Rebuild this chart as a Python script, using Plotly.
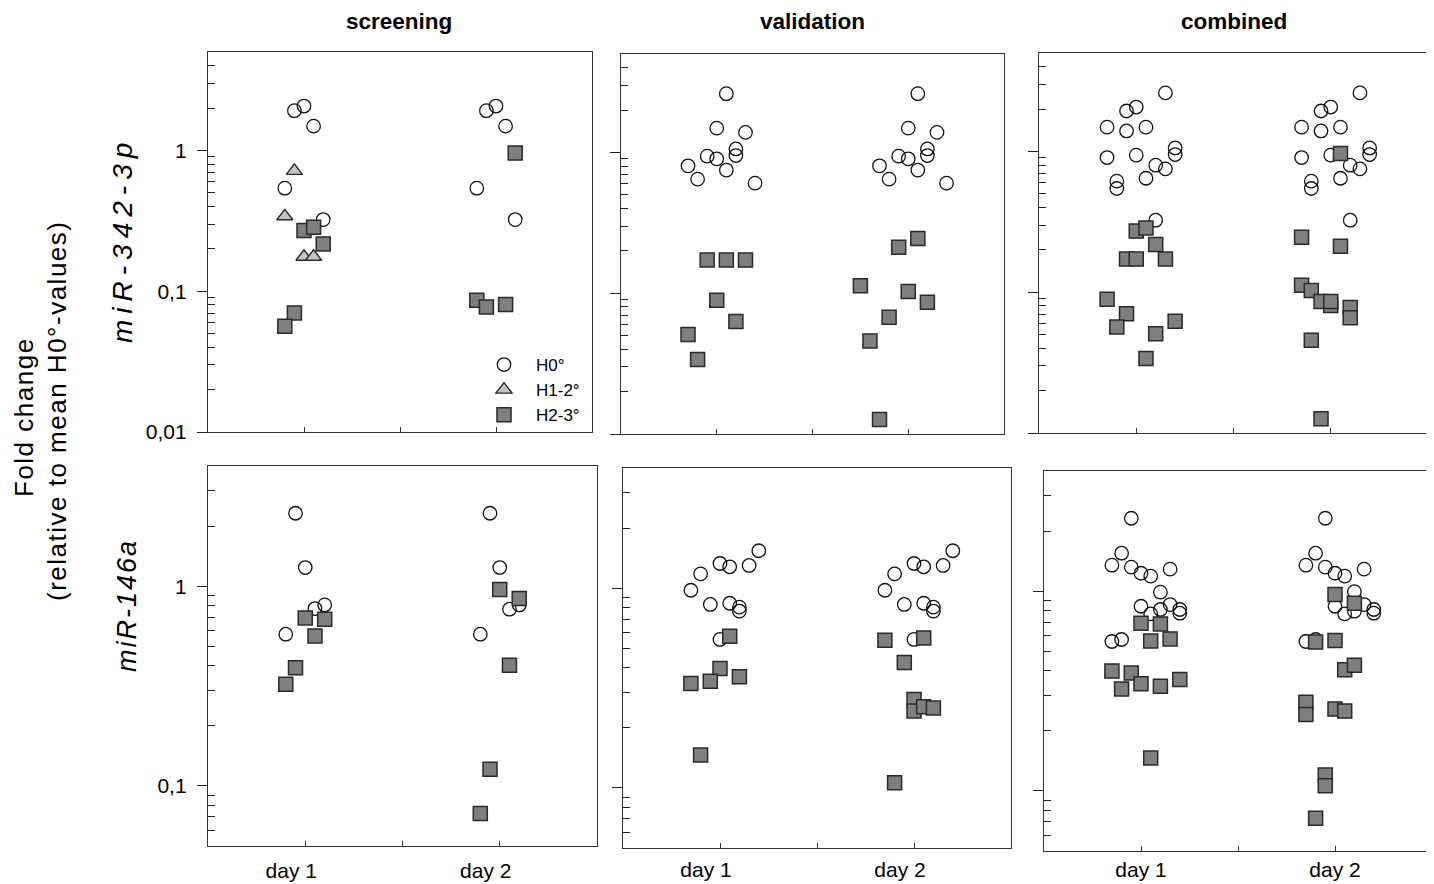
import plotly.graph_objects as go

# ---------------- data ----------------
days = ["day 1", "day 2"]
column_titles = ["screening", "validation", "combined"]
row_titles = ["miR-342-3p", "miR-146a"]
groups = ["H0°", "H1-2°", "H2-3°"]

# dodge rank of each point inside its day column (beeswarm slot)
# ---- miR-342-3p, screening
scr342_d1_h0 = [2.07, 1.92, 1.49, 0.54, 0.323]
scr342_d1_h0_rank = [0, -1, 1, -2, 2]
scr342_d1_h12 = [0.717, 0.341, 0.176, 0.176]
scr342_d1_h12_rank = [-1, -2, 0, 1]
scr342_d1_h23 = [0.27, 0.285, 0.217, 0.0702, 0.0564]
scr342_d1_h23_rank = [0, 1, 2, -1, -2]
scr342_d2_h0 = [2.07, 1.92, 1.49, 0.54, 0.323]
scr342_d2_h0_rank = [0, -1, 1, -2, 2]
scr342_d2_h23 = [0.962, 0.0863, 0.0804, 0.0774]
scr342_d2_h23_rank = [2, -2, 1, -1]

# ---- miR-342-3p, validation
val342_d1_h0 = [2.62, 1.49, 1.39, 1.06, 0.952, 0.942, 0.902, 0.804, 0.75, 0.647, 0.606]
val342_d1_h0_rank = [1, 0, 3, 2, 2, -1, 0, -3, 1, -2, 4]
val342_d1_h23 = [0.172, 0.172, 0.172, 0.0892, 0.063, 0.0509, 0.0339]
val342_d1_h23_rank = [-1, 1, 3, 0, 2, -3, -2]
val342_d2_h0 = [2.62, 1.49, 1.39, 1.06, 0.952, 0.942, 0.902, 0.804, 0.75, 0.647, 0.606]
val342_d2_h0_rank = [1, 0, 3, 2, 2, -1, 0, -3, 1, -2, 4]
val342_d2_h23 = [0.245, 0.212, 0.113, 0.103, 0.0863, 0.0676, 0.0457, 0.0127]
val342_d2_h23_rank = [1, -1, -5, 0, 2, -2, -4, -3]

# ---- miR-342-3p, combined
com342_d1_h0 = [2.61, 2.07, 1.94, 1.49, 1.40, 1.49, 1.06, 0.952, 0.906, 0.942,
                0.80, 0.753, 0.646, 0.616, 0.546, 0.325]
com342_d1_h0_rank = [3, 0, -1, -3, -1, 1, 4, 4, -3, 0, 2, 3, 1, -2, -2, 2]
com342_d1_h23 = [0.272, 0.286, 0.218, 0.172, 0.172, 0.172, 0.0892, 0.0705,
                 0.0567, 0.0622, 0.0508, 0.0338]
com342_d1_h23_rank = [0, 1, 2, -1, 0, 3, -3, -1, -2, 4, 2, 1]
com342_d2_h0 = [2.61, 2.07, 1.94, 1.49, 1.40, 1.49, 1.06, 0.952, 0.906, 0.942,
                0.80, 0.753, 0.646, 0.616, 0.546, 0.325]
com342_d2_h0_rank = [3, 0, -1, -3, -1, 1, 4, 4, -3, 0, 2, 3, 1, -2, -2, 2]
com342_d2_h23 = [0.967, 0.246, 0.212, 0.112, 0.103, 0.0859, 0.0805, 0.086,
                 0.0778, 0.066, 0.0456, 0.0126]
com342_d2_h23_rank = [1, -3, 1, -3, -2, -1, 0, 0, 2, 2, -2, -1]

# ---- miR-146a, screening
scr146_d1_h0 = [2.32, 1.24, 0.773, 0.806, 0.575]
scr146_d1_h0_rank = [-1, 0, 1, 2, -2]
scr146_d1_h23 = [0.694, 0.684, 0.564, 0.390, 0.323]
scr146_d1_h23_rank = [0, 2, 1, -1, -2]
scr146_d2_h0 = [2.32, 1.24, 0.767, 0.806, 0.575]
scr146_d2_h0_rank = [-1, 0, 1, 2, -2]
scr146_d2_h23 = [0.962, 0.868, 0.402, 0.121, 0.0727]
scr146_d2_h23_rank = [0, 2, 1, -1, -2]

# ---- miR-146a, validation
val146_d1_h0 = [1.54, 1.33, 1.28, 1.30, 1.18, 0.977, 0.829, 0.841, 0.804, 0.768, 0.554]
val146_d1_h0_rank = [4, 0, 1, 3, -2, -3, -1, 1, 2, 2, 0]
val146_d1_h23 = [0.574, 0.396, 0.36, 0.333, 0.342, 0.146]
val146_d1_h23_rank = [1, 0, 2, -3, -1, -2]
val146_d2_h0 = [1.54, 1.33, 1.28, 1.30, 1.18, 0.977, 0.829, 0.841, 0.804, 0.768, 0.554]
val146_d2_h0_rank = [4, 0, 1, 3, -2, -3, -1, 1, 2, 2, 0]
val146_d2_h23 = [0.548, 0.563, 0.424, 0.277, 0.243, 0.255, 0.251, 0.106]
val146_d2_h23_rank = [-3, 1, -1, 0, 0, 1, 2, -2]

# ---- miR-146a, combined
com146_d1_h0 = [2.32, 1.55, 1.35, 1.32, 1.23, 1.19, 1.29, 0.989, 0.841, 0.81,
                0.857, 0.77, 0.81, 0.776, 0.56, 0.573]
com146_d1_h0_rank = [-1, -2, -3, -1, 0, 1, 3, 2, 0, 2, 3, 1, 4, 4, -3, -2]
com146_d1_h23 = [0.691, 0.686, 0.564, 0.577, 0.398, 0.389, 0.324, 0.344, 0.334,
                 0.361, 0.146]
com146_d1_h23_rank = [0, 2, 1, 3, -3, -1, -2, 0, 2, 4, 1]
com146_d2_h0 = [2.32, 1.55, 1.35, 1.32, 1.23, 1.19, 1.29, 0.995, 0.841, 0.794,
                0.857, 0.77, 0.81, 0.776, 0.56, 0.573]
com146_d2_h0_rank = [-1, -2, -3, -1, 0, 1, 3, 2, 0, 2, 3, 1, 4, 4, -3, -2]
com146_d2_h23 = [0.962, 0.871, 0.556, 0.566, 0.404, 0.426, 0.278, 0.241, 0.257,
                 0.251, 0.12, 0.106, 0.073]
com146_d2_h23_rank = [0, 2, -2, 0, 1, 2, -3, -3, 0, 1, -1, -1, -2]

# y tick labels
top_ticks = [0.01, 0.1, 1]
top_ticktext = ["0,01", "0,1", "1"]
bottom_ticks = [0.1, 1]
bottom_ticktext = ["0,1", "1"]

# ---------------- assembling ----------------
# (panel row, panel col, day index, group index, values, ranks)
series = [
    (0, 0, 0, 0, scr342_d1_h0, scr342_d1_h0_rank),
    (0, 0, 0, 1, scr342_d1_h12, scr342_d1_h12_rank),
    (0, 0, 0, 2, scr342_d1_h23, scr342_d1_h23_rank),
    (0, 0, 1, 0, scr342_d2_h0, scr342_d2_h0_rank),
    (0, 0, 1, 2, scr342_d2_h23, scr342_d2_h23_rank),
    (0, 1, 0, 0, val342_d1_h0, val342_d1_h0_rank),
    (0, 1, 0, 2, val342_d1_h23, val342_d1_h23_rank),
    (0, 1, 1, 0, val342_d2_h0, val342_d2_h0_rank),
    (0, 1, 1, 2, val342_d2_h23, val342_d2_h23_rank),
    (0, 2, 0, 0, com342_d1_h0, com342_d1_h0_rank),
    (0, 2, 0, 2, com342_d1_h23, com342_d1_h23_rank),
    (0, 2, 1, 0, com342_d2_h0, com342_d2_h0_rank),
    (0, 2, 1, 2, com342_d2_h23, com342_d2_h23_rank),
    (1, 0, 0, 0, scr146_d1_h0, scr146_d1_h0_rank),
    (1, 0, 0, 2, scr146_d1_h23, scr146_d1_h23_rank),
    (1, 0, 1, 0, scr146_d2_h0, scr146_d2_h0_rank),
    (1, 0, 1, 2, scr146_d2_h23, scr146_d2_h23_rank),
    (1, 1, 0, 0, val146_d1_h0, val146_d1_h0_rank),
    (1, 1, 0, 2, val146_d1_h23, val146_d1_h23_rank),
    (1, 1, 1, 0, val146_d2_h0, val146_d2_h0_rank),
    (1, 1, 1, 2, val146_d2_h23, val146_d2_h23_rank),
    (1, 2, 0, 0, com146_d1_h0, com146_d1_h0_rank),
    (1, 2, 0, 2, com146_d1_h23, com146_d1_h23_rank),
    (1, 2, 1, 0, com146_d2_h0, com146_d2_h0_rank),
    (1, 2, 1, 2, com146_d2_h23, com146_d2_h23_rank),
]

# the page body keeps an 8 px margin at the top-left of the figure
PAGE_MARGIN = 8
W, H = 1434 - PAGE_MARGIN, 884 - PAGE_MARGIN
SLOT = 0.05  # horizontal dodge step, in x data units


def px(p):
    return (p - PAGE_MARGIN) / W


def py(p):
    return 1 - (p - PAGE_MARGIN) / H


# panel boxes in page pixels: (left, right, top, bottom)
boxes = {
    (0, 0): (208, 592, 52, 432),
    (0, 1): (621, 1004, 54, 434),
    (0, 2): (1039, 1428, 53, 433),
    (1, 0): (208, 597, 466, 846),
    (1, 1): (623, 1011, 468, 848),
    (1, 2): (1044, 1432, 471, 851),
}
# horizontal shift of the "day" labels relative to their tick marks (pixels)
label_shift = {0: -14, 1: -14, 2: 0}
# distance between the bottom axis line and the "day" labels (pixels)
label_standoff = {0: 6, 1: 3, 2: 0}

marker_styles = [
    dict(symbol="circle-open", size=13.5, color="#111111", line=dict(width=1.3, color="#111111")),
    dict(symbol="triangle-up", size=14, color="#c4c4c4", line=dict(width=1.4, color="#2a2a2a")),
    dict(symbol="square", size=14, color="#7f7f7f", line=dict(width=1.5, color="#2a2a2a")),
]

FONT = "Liberation Sans, Arial, Helvetica, sans-serif"
fig = go.Figure()


def axis_names(r, c):
    k = r * 3 + c + 1
    return ("x" if k == 1 else f"x{k}"), ("y" if k == 1 else f"y{k}")


legend_done = set()
# draw circles first, then triangles, then squares
for g_order in [0, 1, 2]:
    for (r, c, d, g, vals, ranks) in series:
        if g != g_order:
            continue
        xa, ya = axis_names(r, c)
        xs = [d + 1 + k * SLOT for k in ranks]
        show = (r == 0 and c == 0 and g not in legend_done)
        if show:
            legend_done.add(g)
        fig.add_trace(go.Scatter(
            x=xs, y=vals, mode="markers", xaxis=xa, yaxis=ya,
            marker=marker_styles[g], name=groups[g], legendgroup=groups[g],
            showlegend=show, hoverinfo="skip",
        ))

top_minor = [v * m for v in (0.01, 0.1) for m in range(2, 10)] + [2, 3, 4]
bottom_minor = [0.06, 0.07, 0.08, 0.09] + [0.1 * m for m in range(2, 10)] + [2, 3]

layout = dict(
    width=W, height=H, margin=dict(l=0, r=0, t=0, b=0, autoexpand=False),
    paper_bgcolor="white", plot_bgcolor="white",
    font=dict(family=FONT, color="black"),
    showlegend=True,
)

for (r, c), (L, R, T, B) in boxes.items():
    k = r * 3 + c + 1
    xkey = "xaxis" if k == 1 else f"xaxis{k}"
    ykey = "yaxis" if k == 1 else f"yaxis{k}"
    xa, ya = axis_names(r, c)
    shift = label_shift[c] * 2.0 / (R - L)
    layout[xkey] = dict(
        domain=[px(L), px(R)], anchor=ya, range=[0.5, 2.5], automargin=False,
        tickvals=[1 + shift, 2 + shift], ticktext=days, ticks="",
        showticklabels=(r == 1), tickfont=dict(size=21, family=FONT),
        ticklabelstandoff=label_standoff[c],
        minor=dict(tickvals=[1, 1.5, 2], ticks="inside", ticklen=5, tickwidth=1,
                   tickcolor="#333333"),
        showline=True, mirror=True, linecolor="#333333", linewidth=1.3,
        showgrid=False, zeroline=False, fixedrange=True,
    )
    if r == 0:
        rng, tv, tt, mn = [-2, 0.7], top_ticks, top_ticktext, top_minor
    else:
        rng, tv, tt, mn = [-1.301, 0.602], bottom_ticks, bottom_ticktext, bottom_minor
    layout[ykey] = dict(
        domain=[py(B), py(T)], anchor=xa, type="log", range=rng, automargin=False,
        tickvals=tv, ticktext=tt, ticks="outside", ticklen=10, tickwidth=1.2,
        tickcolor="#222222", showticklabels=(c == 0),
        tickfont=dict(size=21, family=FONT), ticklabelstandoff=6,
        minor=dict(tickvals=mn, ticks="inside", ticklen=7, tickwidth=1, tickcolor="#222222"),
        showline=True, mirror=True, linecolor="#333333", linewidth=1.3,
        showgrid=False, zeroline=False, fixedrange=True,
    )

layout["legend"] = dict(
    x=px(472), y=py(347), xanchor="left", yanchor="top",
    bgcolor="rgba(0,0,0,0)", borderwidth=0, font=dict(size=17, family=FONT),
    itemwidth=54, tracegroupgap=0,
)

annotations = []
col_centers = [399, 812, 1234]
for name, cx in zip(column_titles, col_centers):
    annotations.append(dict(
        text=f"<b>{name}</b>", x=px(cx), y=1, xref="paper", yref="paper",
        showarrow=False, xanchor="center", yanchor="top", borderpad=0,
        font=dict(size=22.5, family=FONT, color="black"),
    ))
row_specs = [(122, 240, 6, 28), (127, 606, 2, 27)]
for name, (cx, cy, ls, fs) in zip(row_titles, row_specs):
    annotations.append(dict(
        text=f"<i><span style='letter-spacing:{ls}px'>{name}</span></i>",
        x=px(cx), y=py(cy), xref="paper", yref="paper",
        showarrow=False, xanchor="center", yanchor="middle", textangle=-90,
        font=dict(size=fs, family=FONT, color="black"),
    ))
annotations.append(dict(
    text="<span style='letter-spacing:1.5px'>Fold change</span>",
    x=px(24), y=py(417), xref="paper", yref="paper",
    showarrow=False, xanchor="center", yanchor="middle", textangle=-90,
    font=dict(size=26, family=FONT, color="black"),
))
annotations.append(dict(
    text="<span style='letter-spacing:1.5px'>(relative to mean H0°-values)</span>",
    x=px(57), y=py(411), xref="paper", yref="paper",
    showarrow=False, xanchor="center", yanchor="middle", textangle=-90,
    font=dict(size=26, family=FONT, color="black"),
))
layout["annotations"] = annotations

fig.update_layout(**layout)
fig.write_html("out.html")
